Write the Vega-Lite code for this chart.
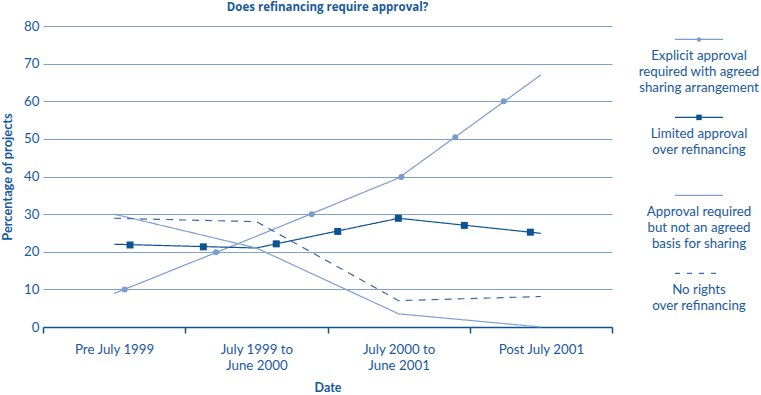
{
  "$schema": "https://vega.github.io/schema/vega-lite/v6.json",
  "padding": {"left": 1, "top": 1, "right": 0, "bottom": 0},
  "background": "white",
  "spacing": 16,
  "config": {
    "view": {"stroke": null},
    "font": "Lato",
    "text": {"font": "Lato"}
  },
  "datasets": {
    "lines": [
      {"series": "Explicit approval", "t": 0, "value": 8.9},
      {"series": "Explicit approval", "t": 1, "value": 24.1},
      {"series": "Explicit approval", "t": 2, "value": 39.6},
      {"series": "Explicit approval", "t": 3, "value": 67.0},
      {"series": "Limited approval", "t": 0, "value": 22.0},
      {"series": "Limited approval", "t": 1, "value": 21.0},
      {"series": "Limited approval", "t": 2, "value": 28.9},
      {"series": "Limited approval", "t": 3, "value": 24.9},
      {"series": "Approval required", "t": 0, "value": 30.0},
      {"series": "Approval required", "t": 1, "value": 21.0},
      {"series": "Approval required", "t": 2, "value": 3.5},
      {"series": "Approval required", "t": 3, "value": 0.0},
      {"series": "No rights", "t": 0, "value": 28.9},
      {"series": "No rights", "t": 1, "value": 28.0},
      {"series": "No rights", "t": 2, "value": 7.0},
      {"series": "No rights", "t": 3, "value": 8.1}
    ],
    "markers": [
      {"series": "Explicit approval", "t": 0.074, "value": 10.0},
      {"series": "Explicit approval", "t": 0.716, "value": 19.9},
      {"series": "Explicit approval", "t": 1.389, "value": 30.0},
      {"series": "Explicit approval", "t": 2.019, "value": 39.9},
      {"series": "Explicit approval", "t": 2.398, "value": 50.4},
      {"series": "Explicit approval", "t": 2.739, "value": 60.0},
      {"series": "Limited approval", "t": 0.112, "value": 21.8},
      {"series": "Limited approval", "t": 0.627, "value": 21.3},
      {"series": "Limited approval", "t": 1.140, "value": 22.1},
      {"series": "Limited approval", "t": 1.572, "value": 25.4},
      {"series": "Limited approval", "t": 1.998, "value": 28.9},
      {"series": "Limited approval", "t": 2.462, "value": 27.0},
      {"series": "Limited approval", "t": 2.926, "value": 25.2}
    ],
    "legend": [
      {"series": "Explicit approval", "label": "Explicit approval\nrequired with agreed\nsharing arrangement"},
      {"series": "Limited approval", "label": "Limited approval\nover refinancing"},
      {"series": "Approval required", "label": "Approval required\nbut not an agreed\nbasis for sharing"},
      {"series": "No rights", "label": "No rights\nover refinancing"}
    ]
  },
  "hconcat": [
    {
      "width": 569,
      "height": 301,
      "title": {
        "text": "Does refinancing require approval?",
        "font": "Open Sans",
        "fontSize": 11.5,
        "fontWeight": "bold",
        "color": "#18599b",
        "anchor": "middle",
        "offset": 6
      },
      "encoding": {
        "x": {
          "field": "t",
          "type": "quantitative",
          "scale": {"domain": [-0.5, 3.5], "nice": false, "zero": false},
          "axis": {
            "title": "Date",
            "titleFont": "Lato",
            "titleFontSize": 12.5,
            "titleFontWeight": "bold",
            "titleColor": "#18599b",
            "titlePadding": 10,
            "values": [-0.5, 0, 0.5, 1, 1.5, 2, 2.5, 3, 3.5],
            "labelExpr": "datum.value === 0 ? 'Pre July 1999' : datum.value === 1 ? ['July 1999 to', 'June 2000'] : datum.value === 2 ? ['July 2000 to', 'June 2001'] : datum.value === 3 ? 'Post July 2001' : ''",
            "labelFont": "Lato",
            "labelFontSize": 13.3,
            "labelColor": "#18599b",
            "labelPadding": 9,
            "labelLineHeight": 16,
            "labelOverlap": false,
            "labelFlush": false,
            "labelBound": false,
            "tickOpacity": {"expr": "datum.value % 1 === 0 ? 0 : 1"},
            "tickSize": 6,
            "tickColor": "#0b5394",
            "tickWidth": 1.5,
            "domainColor": "#0b5394",
            "domainWidth": 1.5,
            "grid": false
          }
        },
        "y": {
          "field": "value",
          "type": "quantitative",
          "scale": {"domain": [0, 80], "nice": false},
          "axis": {
            "title": "Percentage of projects",
            "titleFont": "Lato",
            "titleFontSize": 12.8,
            "titleFontWeight": "bold",
            "titleColor": "#18599b",
            "titlePadding": 9,
            "values": [0, 10, 20, 30, 40, 50, 60, 70, 80],
            "labelFont": "Lato",
            "labelFontSize": 13.3,
            "labelColor": "#18599b",
            "labelPadding": 4,
            "labelOverlap": false,
            "ticks": false,
            "domain": false,
            "grid": true,
            "gridColor": "#7f9ed3",
            "gridWidth": 1
          }
        }
      },
      "layer": [
        {
          "data": {"name": "lines"},
          "mark": {"type": "line", "strokeWidth": 1.2},
          "encoding": {
            "color": {
              "field": "series",
              "type": "nominal",
              "scale": {
                "domain": ["Explicit approval", "Limited approval", "Approval required", "No rights"],
                "range": ["#7b9bd1", "#0b5394", "#7f9ed3", "#3f68a6"]
              },
              "legend": null
            },
            "strokeDash": {
              "field": "series",
              "type": "nominal",
              "scale": {
                "domain": ["Explicit approval", "Limited approval", "Approval required", "No rights"],
                "range": [[1, 0], [1, 0], [1, 0], [7, 6]]
              },
              "legend": null
            }
          }
        },
        {
          "data": {"name": "markers"},
          "mark": {"type": "point", "filled": true, "opacity": 1},
          "encoding": {
            "color": {"field": "series", "type": "nominal", "legend": null},
            "shape": {
              "field": "series",
              "type": "nominal",
              "scale": {"domain": ["Explicit approval", "Limited approval"], "range": ["circle", "square"]},
              "legend": null
            },
            "size": {
              "field": "series",
              "type": "nominal",
              "scale": {"domain": ["Explicit approval", "Limited approval"], "range": [36, 49]},
              "legend": null
            }
          }
        }
      ]
    },
    {
      "width": 140,
      "height": 301,
      "data": {"name": "legend"},
      "encoding": {
        "y": {
          "field": "series",
          "type": "nominal",
          "sort": null,
          "scale": {
            "type": "point",
            "domain": ["Explicit approval", "Limited approval", "Approval required", "No rights"],
            "padding": 0.43,
            "align": 0.2
          },
          "axis": null
        }
      },
      "layer": [
        {
          "mark": {"type": "point", "shape": "stroke", "size": 2304, "strokeWidth": 1.3, "opacity": 1},
          "encoding": {
            "color": {
              "field": "series",
              "type": "nominal",
              "scale": {
                "domain": ["Explicit approval", "Limited approval", "Approval required", "No rights"],
                "range": ["#7b9bd1", "#0b5394", "#7f9ed3", "#3f68a6"]
              },
              "legend": null
            },
            "strokeDash": {
              "field": "series",
              "type": "nominal",
              "scale": {
                "domain": ["Explicit approval", "Limited approval", "Approval required", "No rights"],
                "range": [[1, 0], [1, 0], [1, 0], [5, 7]]
              },
              "legend": null
            }
          }
        },
        {
          "transform": [{"filter": "datum.series === 'Explicit approval' || datum.series === 'Limited approval'"}],
          "mark": {"type": "point", "filled": true, "opacity": 1},
          "encoding": {
            "color": {"field": "series", "type": "nominal", "legend": null},
            "shape": {
              "field": "series",
              "type": "nominal",
              "scale": {"domain": ["Explicit approval", "Limited approval"], "range": ["circle", "square"]},
              "legend": null
            },
            "size": {
              "field": "series",
              "type": "nominal",
              "scale": {"domain": ["Explicit approval", "Limited approval"], "range": [20, 30]},
              "legend": null
            }
          }
        },
        {
          "mark": {
            "type": "text",
            "baseline": "top",
            "align": "center",
            "dy": 10,
            "lineBreak": "\n",
            "lineHeight": 16,
            "fontSize": 13.3,
            "font": "Lato",
            "color": "#18599b"
          },
          "encoding": {"text": {"field": "label", "type": "nominal"}}
        }
      ]
    }
  ],
  "resolve": {"scale": {"color": "independent", "shape": "independent", "size": "independent", "strokeDash": "independent"}}
}
